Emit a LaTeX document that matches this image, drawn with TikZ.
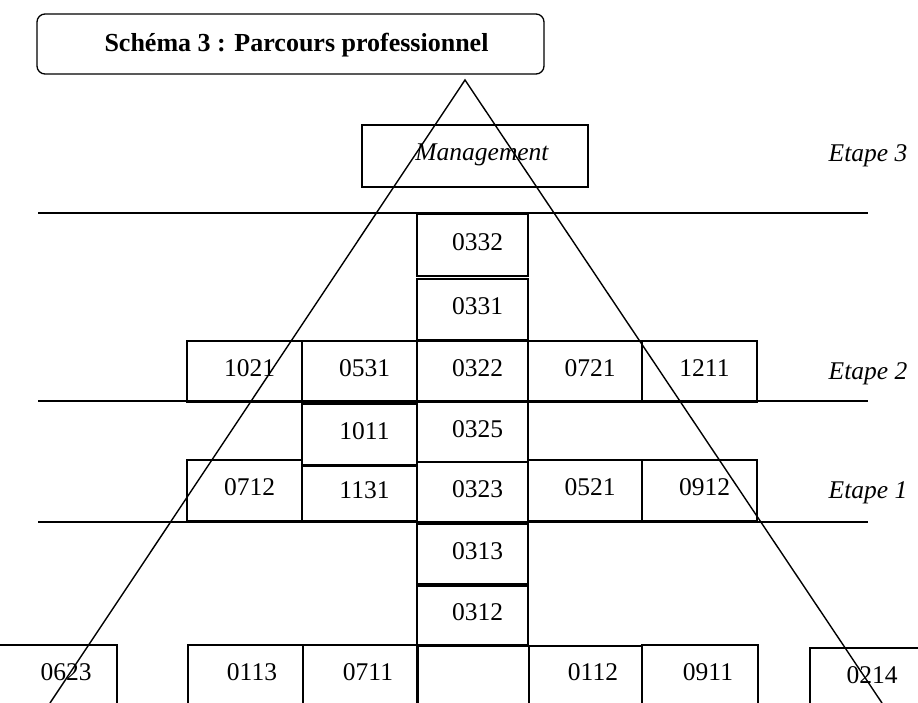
\documentclass[tikz,border=0pt]{standalone}
\usepackage{fontspec}
\setmainfont{Liberation Serif}
\usetikzlibrary{calc}

% one cell of the chart: name, x1, y1, x2, y2, code
\newcommand\mkcell[6]{%
  \node[cellbox,
        minimum width={(#4-#2)*1bp},
        minimum height={(#5-#3)*1bp},
        label={[numlabel]center:#6}] (#1) at ({(#2+#4)/2},{(#3+#5)/2}) {};%
}

\tikzset{
  cellbox/.style={draw, rectangle, line width=1.3bp, inner sep=0pt, outer sep=0pt},
  numfont/.style={font=\fontsize{25.5bp}{30bp}\selectfont},
  numlabel/.style={numfont, inner sep=0pt, xshift=5bp, yshift=3bp},
  numtext/.style={numfont, inner sep=0pt},
  steplabel/.style={font=\fontsize{25.5bp}{30bp}\selectfont\itshape, inner sep=0pt, anchor=mid},
  levelline/.style={line width=1.5bp},
  ridge/.style={line width=1.4bp},
  titlebox/.style={draw, rectangle, rounded corners=8bp, line width=1.3bp, inner sep=0pt},
}

\begin{document}
\begin{tikzpicture}[x=1bp, y=-1bp]
\useasboundingbox (0,0) rectangle (918,703);
\fill[white] (0,0) rectangle (918,703);
\clip (0,0) rectangle (918,703);

% title
\node[titlebox, minimum width=507bp, minimum height=60bp] (title) at (290.5,44) {};
\node[font=\fontsize{26bp}{30bp}\selectfont\bfseries, inner sep=0pt, anchor=base]
  (titletext) at (296.5,52) {Schéma 3 : Parcours professionnel};

% top level
\node[cellbox, minimum width=226bp, minimum height=62bp] (mgmt) at (475,156) {};
\node[font=\fontsize{25.5bp}{30bp}\selectfont\itshape, inner sep=0pt, anchor=base]
  (mgmttext) at (482,161) {Management};

% central column
\mkcell{c0332}{417}{214}{528}{276}{0332}
\mkcell{c0331}{417}{279}{528}{340}{0331}

% step 2 row
\mkcell{c1021}{187}{341}{302}{402}{1021}
\mkcell{c0531}{302}{341}{417}{402}{0531}
\mkcell{c0322}{417}{341}{528}{402}{0322}
\mkcell{c0721}{528}{341}{642}{402}{0721}
\mkcell{c1211}{642}{341}{757}{402}{1211}

% between step 1 and step 2
\mkcell{c1011}{302}{404}{417}{465}{1011}
\mkcell{c0325}{417}{402}{528}{462}{0325}

% step 1 row
\mkcell{c0712}{187}{460}{302}{521}{0712}
\mkcell{c1131}{302}{466}{417}{521}{1131}
\mkcell{c0323}{417}{462}{528}{522}{0323}
\mkcell{c0521}{528}{460}{642}{521}{0521}
\mkcell{c0912}{642}{460}{757}{521}{0912}

% below step 1
\mkcell{c0313}{417}{524}{528}{584}{0313}
\mkcell{c0312}{417}{586}{528}{645}{0312}

% entry row (cells run past the lower edge)
\mkcell{c0623}{-20}{645}{117}{760}{}
\mkcell{c0113}{188}{645}{303}{760}{}
\mkcell{c0711}{303}{645}{417}{760}{}
\mkcell{cvoid}{418}{646}{529}{760}{}
\mkcell{c0112}{529}{646}{642}{760}{}
\mkcell{c0911}{642}{645}{758}{760}{}
\mkcell{c0214}{810}{648}{940}{760}{}
\node[numtext] (t0623) at (66,672) {0623};
\node[numtext] (t0113) at (252,672) {0113};
\node[numtext] (t0711) at (368,672) {0711};
\node[numtext] (t0112) at (593,672) {0112};
\node[numtext] (t0911) at (708,672) {0911};
\node[numtext] (t0214) at (872,675) {0214};

% level separators
\coordinate (e3w) at (38,213);  \coordinate (e3e) at (868,213);
\coordinate (e2w) at (38,401);  \coordinate (e2e) at (868,401);
\coordinate (e1w) at (38,522);  \coordinate (e1e) at (868,522);
\draw[levelline] (e3w) -- (e3e);
\draw[levelline] (e2w) -- (e2e);
\draw[levelline] (e1w) -- (e1e);

% step labels
\node[steplabel] (step3) at (868,159) {Etape 3};
\node[steplabel] (step2) at (868,377) {Etape 2};
\node[steplabel] (step1) at (868,496) {Etape 1};

% pyramid
\coordinate (apex)  at (465,80);
\coordinate (lfoot) at (50,703);
\coordinate (rfoot) at (882,703);
\draw[ridge] (lfoot) -- (apex) -- (rfoot);
\end{tikzpicture}
\end{document}
